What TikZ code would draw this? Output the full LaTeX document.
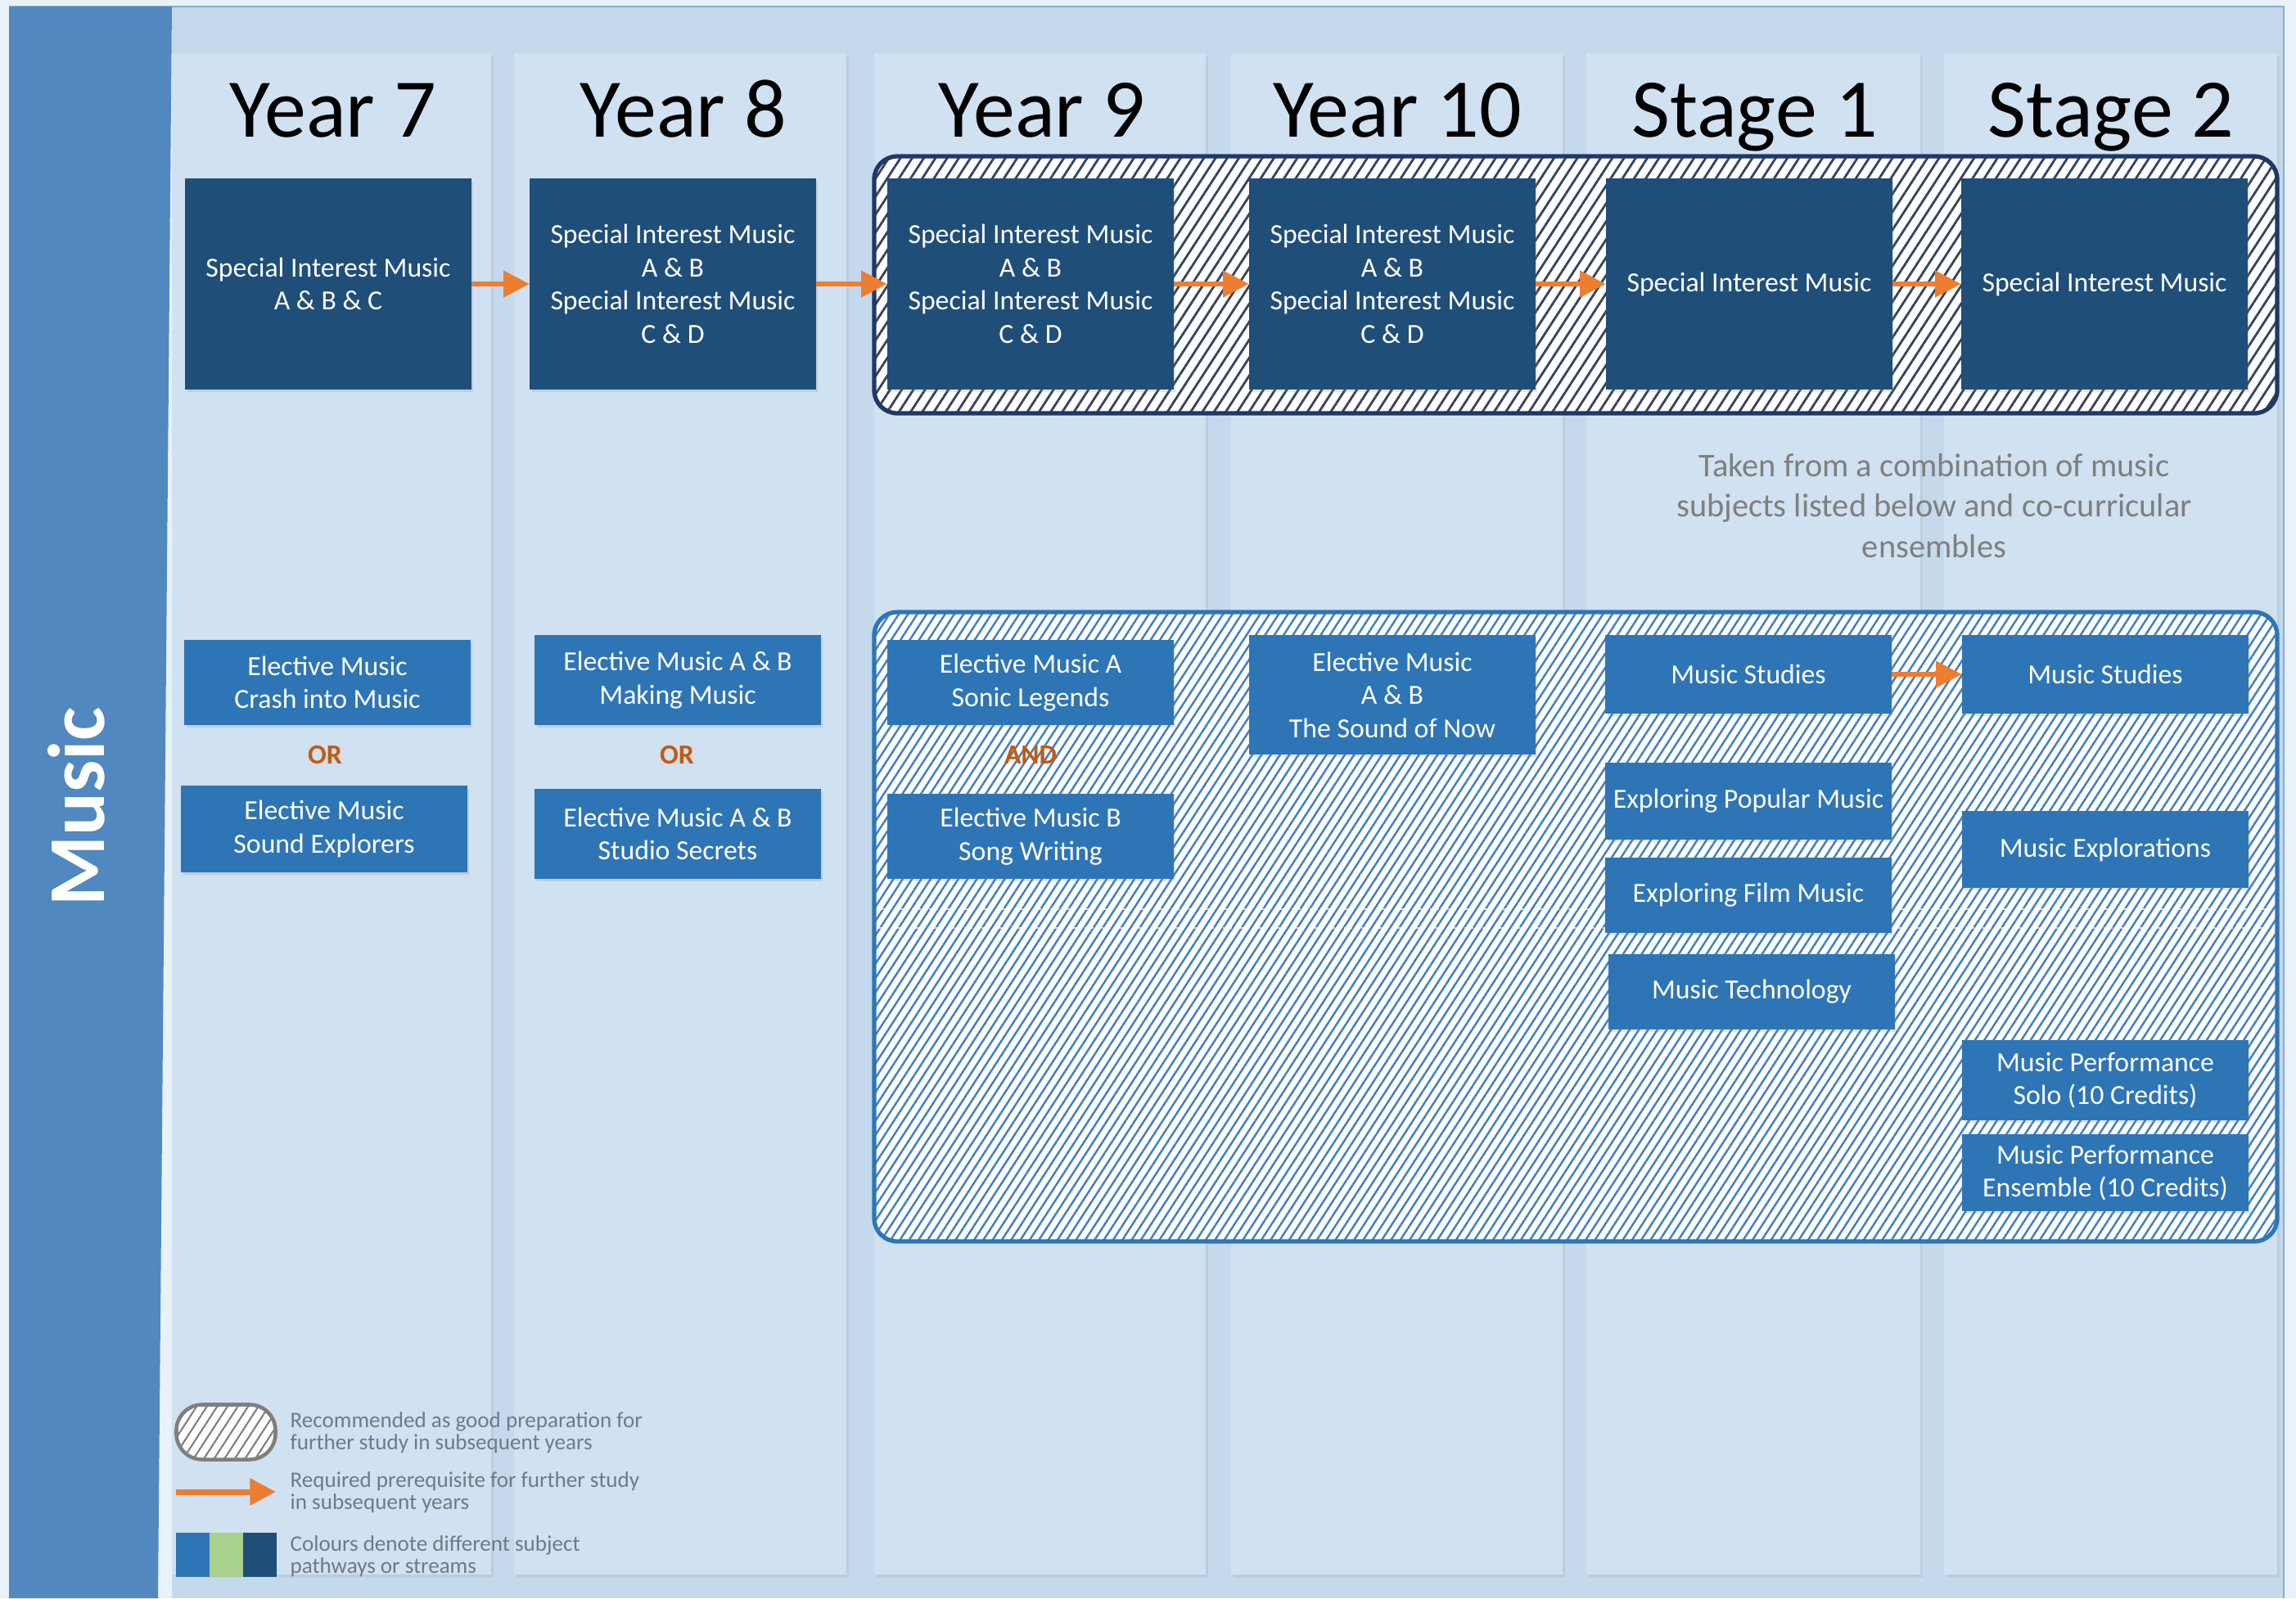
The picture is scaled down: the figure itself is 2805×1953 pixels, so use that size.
\documentclass[tikz,border=0pt]{standalone}
\usepackage{fontspec}
\setmainfont{Carlito}
\usetikzlibrary{arrows.meta}
\usetikzlibrary{decorations.markings}
\usetikzlibrary{patterns.meta}
\usetikzlibrary{shadows}
\definecolor{outerbg}{HTML}{E9F1F9}
\definecolor{panelbg}{HTML}{C5D9EC}
\definecolor{colbg}{HTML}{D0E1F1}
\definecolor{sidebar}{HTML}{5088BF}
\definecolor{navyb}{HTML}{1F4E79}
\definecolor{blueb}{HTML}{2E75B6}
\definecolor{greenb}{HTML}{A9D18E}
\definecolor{morange}{HTML}{ED7D31}
\definecolor{dorange}{HTML}{C55A11}
\definecolor{frnavy}{HTML}{1F3864}
\definecolor{hatchdark}{HTML}{34445F}
\definecolor{hatchblue}{HTML}{4080C2}
\definecolor{mgray}{HTML}{7F7F7F}
\definecolor{leggray}{HTML}{6F7A88}
\tikzset{req/.style = {morange, line width=1.6pt, shorten >=2pt,
                       decoration={markings,
                                   mark=at position 1 with {\arrow{Triangle[length=9pt, width=9pt]}}},
                       postaction={decorate}}}
\tikzset{colm/.style = {fill=colbg, drop shadow={opacity=0.12, shadow xshift=0.8pt, shadow yshift=-1pt}}}
\tikzset{yr/.style = {anchor=base, font=\fontsize{29}{34}\selectfont}}
\tikzset{sim/.style = {fill=navyb, text=white, minimum width=3.49cm, minimum height=2.57cm, inner sep=0,
                       align=center, font=\fontsize{9.6}{11.5}\selectfont,
                       drop shadow={opacity=0.2, shadow xshift=0.6pt, shadow yshift=-0.9pt}}}
\tikzset{elec/.style = {fill=blueb, text=white, minimum width=3.49cm, inner sep=0,
                        align=center, font=\fontsize{9.6}{11.5}\selectfont,
                        drop shadow={opacity=0.2, shadow xshift=0.6pt, shadow yshift=-0.9pt}}}
\tikzset{conj/.style = {text=dorange, font=\bfseries\fontsize{9.6}{11.5}\selectfont}}
\tikzset{hatchtop/.style = {draw=frnavy, line width=1.5pt, rounded corners=8pt,
                            preaction={fill=white},
                            preaction={pattern={Lines[angle=57, distance=3.4pt, line width=0.8pt]}, pattern color=hatchdark}}}
\tikzset{hatchbot/.style = {draw=blueb, line width=1.5pt, rounded corners=8pt,
                            preaction={fill=white},
                            preaction={pattern={Lines[angle=57, distance=2.7pt, line width=0.7pt]}, pattern color=hatchblue}}}
\tikzset{legtext/.style = {anchor=west, align=left, text=leggray, inner sep=0,
                           font=\fontsize{7.7}{6.4}\selectfont}}

\begin{document}
\begin{tikzpicture}[x=0.01cm, y=-0.01cm]
        \useasboundingbox (0, 0) rectangle (2805, 1953);
        \fill[outerbg] (0, 0) rectangle (2805, 1953);
        \fill[panelbg] (210, 8) rectangle (2790, 1953);
        \draw[sidebar!70, line width=0.6pt] (11, 8) -- (2790, 8) -- (2790, 1953);
        \fill[sidebar] (11, 8) -- (210, 8) -- (193, 1953) -- (11, 1953) -- cycle;
        \node[rotate=90, text=white, font=\bfseries\fontsize{28}{34}\selectfont] (subj) at (93, 986) {Music};

        \fill[colm] (210, 65) rectangle (600, 1924);
        \fill[colm] (628, 65) rectangle (1034, 1924);
        \fill[colm] (1068, 65) rectangle (1473, 1924);
        \fill[colm] (1504, 65) rectangle (1909, 1924);
        \fill[colm] (1938, 65) rectangle (2346, 1924);
        \fill[colm] (2375, 65) rectangle (2782, 1924);

        \node[yr] (hy7) at (407, 167) {Year 7};
        \node[yr] (hy8) at (835, 167) {Year 8};
        \node[yr] (hy9) at (1273, 167) {Year 9};
        \node[yr] (hy10) at (1707, 167) {Year 10};
        \node[yr] (hs1) at (2144, 167) {Stage 1};
        \node[yr] (hs2) at (2579, 167) {Stage 2};

        \draw[hatchtop] (1068, 191) rectangle (2782, 505);
        \draw[hatchbot] (1068, 748) rectangle (2782, 1517);
        \draw[white, dashed, line width=0.8pt, opacity=0.7] (1072, 1111) -- (2778, 1111);
        \draw[white, dashed, line width=0.8pt, opacity=0.7] (1072, 1134) -- (2778, 1134);

        \node[sim] (y7sim) at (401, 347) {Special Interest Music\\A \& B \& C};
        \node[sim] (y8sim) at (822, 347) {Special Interest Music\\A \& B\\Special Interest Music\\C \& D};
        \node[sim] (y9sim) at (1259, 347) {Special Interest Music\\A \& B\\Special Interest Music\\C \& D};
        \node[sim] (y10sim) at (1701, 347) {Special Interest Music\\A \& B\\Special Interest Music\\C \& D};
        \node[sim] (s1sim) at (2137, 347) {Special Interest Music};
        \node[sim] (s2sim) at (2571, 347) {Special Interest Music};

        \draw[req] (y7sim) -- (y8sim);
        \draw[req] (y8sim) -- (y9sim);
        \draw[req] (y9sim) -- (y10sim);
        \draw[req] (y10sim) -- (s1sim);
        \draw[req] (s1sim) -- (s2sim);

        \node[text=mgray, align=center, font=\fontsize{11.5}{14}\selectfont] (note) at (2363, 618)
              {Taken from a combination of music\\subjects listed below and co-curricular\\ensembles};

        \node[elec, minimum height=1.04cm] (y7ea) at (400, 834) {Elective Music\\Crash into Music};
        \node[conj] (or7) at (397, 923) {OR};
        \node[elec, minimum height=1.05cm] (y7eb) at (396, 1013) {Elective Music\\Sound Explorers};
        \node[elec, minimum height=1.10cm] (y8ea) at (828, 831) {Elective Music A \& B\\Making Music};
        \node[conj] (or8) at (827, 923) {OR};
        \node[elec, minimum height=1.09cm] (y8eb) at (828, 1019) {Elective Music A \& B\\Studio Secrets};
        \node[elec, minimum height=1.04cm] (y9ea) at (1259, 834) {Elective Music A\\Sonic Legends};
        \node[conj] (and9) at (1259, 923) {AND};
        \node[elec, minimum height=1.04cm] (y9eb) at (1259, 1022) {Elective Music B\\Song Writing};
        \node[elec, minimum height=1.45cm] (y10e) at (1701, 849) {Elective Music\\A \& B\\The Sound of Now};
        \node[elec, minimum height=0.95cm] (s1stu) at (2136, 824) {Music Studies};
        \node[elec, minimum height=0.93cm] (s1pop) at (2136, 979) {Exploring Popular Music};
        \node[elec, minimum height=0.92cm] (s1film) at (2136, 1094) {Exploring Film Music};
        \node[elec, minimum height=0.92cm] (s1tech) at (2140, 1212) {Music Technology};
        \node[elec, minimum height=0.95cm] (s2stu) at (2572, 824) {Music Studies};
        \node[elec, minimum height=0.93cm] (s2exp) at (2572, 1038) {Music Explorations};
        \node[elec, minimum height=0.97cm] (s2solo) at (2572, 1320) {Music Performance\\Solo (10 Credits)};
        \node[elec, minimum height=0.94cm] (s2ens) at (2572, 1433) {Music Performance\\Ensemble (10 Credits)};

        \draw[req] (s1stu) -- (s2stu);

        \node[draw=mgray, line width=1.3pt, rounded corners=9pt, minimum width=1.21cm, minimum height=0.67cm,
              preaction={fill=white},
              preaction={pattern={Lines[angle=57, distance=3pt, line width=0.6pt]}, pattern color=mgray}] (legrec) at (276, 1750) {};
        \node[legtext] (legt1) at (354, 1751) {Recommended as good preparation for\\further study in subsequent years};
        \coordinate (lega) at (215, 1823);
        \coordinate (legb) at (337, 1823);
        \draw[req, line width=2pt] (lega) -- (legb);
        \node[legtext] (legt2) at (354, 1824) {Required prerequisite for further study\\in subsequent years};
        \fill[blueb] (215, 1873) rectangle (256, 1927);
        \fill[greenb] (256, 1873) rectangle (297, 1927);
        \fill[navyb] (297, 1873) rectangle (338, 1927);
        \node[legtext] (legt3) at (354, 1902) {Colours denote different subject\\pathways or streams};
      \end{tikzpicture}
\end{document}
